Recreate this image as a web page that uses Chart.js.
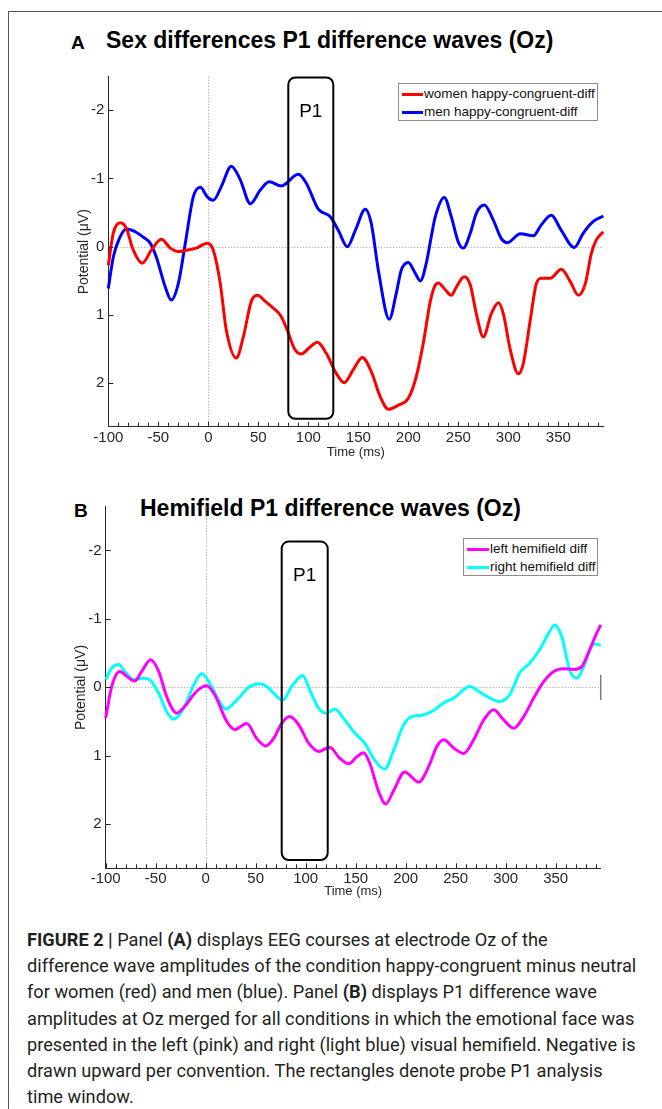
<!DOCTYPE html>
<html>
<head>
<meta charset="utf-8">
<script src="https://cdn.jsdelivr.net/npm/chart.js@4.4.0/dist/chart.umd.min.js"></script>
<style>
  body { margin: 0; background: #fff; }
  #page { position: relative; width: 662px; height: 1109px; overflow: hidden; font-family: 'Liberation Sans', Arial, sans-serif; }
  .frame { position: absolute; left: 8px; top: 11px; width: 700px; height: 1200px; border-top: 1px solid #555; border-left: 1px solid #555; }
  canvas { position: absolute; left: 0; }
  .ptitle { position: absolute; font-weight: bold; color: #000; white-space: nowrap; line-height: 1; }
  .legend { position: absolute; border: 1px solid #8c8c8c; background: #fff; box-sizing: border-box; }
  .legend .row { position: absolute; left: 0; right: 0; height: 18px; font-size: 13.5px; line-height: 18px; color: #111; white-space: nowrap; }
  .legend .swatch { position: absolute; top: 7.5px; height: 3px; }
  .legend .txt { position: absolute; }
  .caption { position: absolute; left: 27px; top: 927px; font-family: Roboto, 'Liberation Sans', sans-serif; font-size: 19px; line-height: 26.2px; color: #231f20; white-space: nowrap; transform: scaleX(0.958); transform-origin: 0 0; }
  .caption b { font-weight: bold; }
</style>
</head>
<body>
<div id="page">
  <div class="frame"></div>

  <div class="ptitle" style="left:71px; top:33px; font-size:19px;">A</div>
  <div class="ptitle" style="left:106px; top:29px; font-size:23px;">Sex differences P1 difference waves (Oz)</div>
  <canvas id="panelA" width="662" height="470" style="top:0;"></canvas>
  <div class="legend" id="legendA" style="left:398px; top:83px; width:200px; height:38px;"></div>

  <div class="ptitle" style="left:74px; top:501px; font-size:19px;">B</div>
  <div class="ptitle" style="left:140px; top:497px; font-size:23px;">Hemifield P1 difference waves (Oz)</div>
  <canvas id="panelB" width="662" height="440" style="top:470px;"></canvas>
  <div class="legend" id="legendB" style="left:463px; top:538px; width:135px; height:38px;"></div>

  <div class="caption">
    <div><b>FIGURE 2 |</b> Panel <b>(A)</b> displays EEG courses at electrode Oz of the</div>
    <div>difference wave amplitudes of the condition happy-congruent minus neutral</div>
    <div>for women (red) and men (blue). Panel <b>(B)</b> displays P1 difference wave</div>
    <div>amplitudes at Oz merged for all conditions in which the emotional face was</div>
    <div>presented in the left (pink) and right (light blue) visual hemifield. Negative is</div>
    <div>drawn upward per convention. The rectangles denote probe P1 analysis</div>
    <div>time window.</div>
  </div>
</div>

<script>
// tick values shared by both panels
const xTicks = [-100, -50, 0, 50, 100, 150, 200, 250, 300, 350];
const yTicks = [-2, -1, 0, 1, 2];

// Panel A - happy-congruent minus neutral, women / men (ms, µV)
const womenTime = [-100, -95, -88, -82, -75, -66, -57, -47, -38, -30, -22, -12, -1, 5, 12, 18, 28, 35, 43, 49, 57, 65, 72, 79, 86, 93, 101, 109, 118, 127, 136, 145, 154, 163, 172, 180, 190, 200, 208, 215, 222, 226, 230, 237, 243, 248, 256, 262, 268, 275, 283, 290, 295, 302, 310, 315, 322, 328, 333, 342, 353, 362, 370, 377, 383, 388, 395];
const womenAmp = [0.27, -0.2, -0.35, -0.27, 0.05, 0.24, 0.05, -0.11, 0.02, 0.07, 0.05, 0.02, -0.05, 0.05, 0.54, 1.22, 1.63, 1.32, 0.8, 0.71, 0.8, 0.9, 1.0, 1.22, 1.49, 1.57, 1.48, 1.4, 1.56, 1.83, 1.99, 1.8, 1.62, 1.83, 2.2, 2.38, 2.32, 2.22, 1.9, 1.41, 0.8, 0.59, 0.53, 0.63, 0.71, 0.59, 0.44, 0.56, 0.98, 1.32, 0.98, 0.82, 0.98, 1.51, 1.86, 1.71, 1.07, 0.54, 0.46, 0.46, 0.33, 0.51, 0.71, 0.54, 0.1, -0.1, -0.22];
const menTime = [-100, -95, -89, -82, -73, -65, -58, -52, -43, -37, -30, -23, -15, -8, -1, 5, 13, 23, 32, 42, 52, 61, 73, 90, 98, 110, 122, 130, 139, 147, 157, 163, 170, 181, 188, 193, 200, 207, 212, 218, 223, 227, 236, 243, 250, 255, 262, 268, 276, 285, 293, 299, 312, 325, 333, 343, 353, 366, 375, 385, 395];
const menAmp = [0.61, 0.15, -0.12, -0.26, -0.22, -0.14, -0.05, 0.15, 0.59, 0.78, 0.54, -0.05, -0.73, -0.87, -0.73, -0.68, -0.88, -1.18, -0.98, -0.63, -0.83, -0.95, -0.89, -1.06, -0.93, -0.55, -0.44, -0.24, 0.0, -0.24, -0.55, -0.34, 0.34, 1.06, 0.68, 0.34, 0.23, 0.39, 0.5, 0.24, -0.15, -0.44, -0.72, -0.44, -0.07, 0.02, -0.2, -0.49, -0.61, -0.39, -0.12, -0.06, -0.19, -0.16, -0.32, -0.46, -0.24, 0.01, -0.2, -0.37, -0.45];

// Panel B - left / right hemifield (ms, µV)
const leftTime = [-100, -94, -86, -79, -71, -64, -55, -47, -39, -29, -21, -9, 1, 9, 21, 29, 41, 51, 60, 68, 76, 84, 93, 103, 113, 124, 134, 143, 151, 158, 164, 173, 180, 188, 199, 213, 223, 231, 238, 248, 258, 268, 278, 288, 298, 308, 318, 328, 338, 348, 358, 368, 376, 384, 391, 395];
const leftAmp = [0.45, -0.01, -0.23, -0.16, -0.09, -0.23, -0.4, -0.23, 0.14, 0.38, 0.28, 0.06, -0.02, 0.11, 0.5, 0.62, 0.53, 0.75, 0.86, 0.75, 0.53, 0.43, 0.55, 0.82, 0.94, 0.88, 1.04, 1.12, 1.02, 0.96, 1.11, 1.53, 1.71, 1.51, 1.24, 1.39, 1.16, 0.87, 0.77, 0.89, 0.97, 0.77, 0.48, 0.33, 0.48, 0.6, 0.43, 0.16, -0.08, -0.23, -0.27, -0.26, -0.3, -0.55, -0.79, -0.91];
const rightTime = [-100, -94, -87, -81, -72, -62, -56, -47, -39, -32, -22, -12, -4, 4, 13, 20, 31, 43, 54, 61, 68, 77, 86, 97, 104, 113, 121, 129, 139, 149, 159, 169, 179, 188, 198, 206, 216, 229, 238, 249, 264, 278, 294, 304, 314, 324, 334, 343, 349, 356, 364, 371, 378, 386, 390, 395];
const rightAmp = [-0.11, -0.28, -0.33, -0.23, -0.11, -0.13, -0.11, 0.09, 0.36, 0.47, 0.31, -0.03, -0.2, -0.06, 0.19, 0.32, 0.19, 0.0, -0.05, -0.01, 0.09, 0.19, -0.01, -0.17, 0.04, 0.31, 0.38, 0.32, 0.48, 0.67, 0.82, 1.07, 1.2, 0.92, 0.55, 0.43, 0.41, 0.33, 0.23, 0.15, -0.01, 0.11, 0.21, 0.11, -0.21, -0.35, -0.55, -0.79, -0.91, -0.74, -0.25, -0.13, -0.3, -0.6, -0.63, -0.61];

const labelsA = ['women happy-congruent-diff', 'men happy-congruent-diff'];
const labelsB = ['left hemifield diff', 'right hemifield diff'];

// P1 analysis window boxes: [start ms, end ms], [top µV, bottom µV]
const p1WindowA = [80, 125];
const p1RangeA = [-2.48, 2.52];
const p1WindowB = [76, 122];
const p1RangeB = [-2.13, 2.53];

// stray axis mark at the right end of panel B
const endMarkTime = [395, 395];
const endMarkAmp = [-0.18, 0.19];

const axisColor = '#262626';
const fontFamily = "'Liberation Sans', Arial, sans-serif";
const tickFont = { family: fontFamily, size: 15 };

function toPoints(times, amps) {
  return times.map((t, i) => ({ x: t, y: amps[i] }));
}

function eegOverlay(win, range) {
  return {
    id: 'eegOverlay',
    beforeDatasetsDraw(chart) {
      const { ctx, chartArea: a, scales: { x, y } } = chart;
      const x0 = Math.round(x.getPixelForValue(0)) + 0.5;
      const y0 = Math.round(y.getPixelForValue(0)) + 0.5;
      ctx.save();
      ctx.strokeStyle = '#9a9a9a';
      ctx.lineWidth = 1;
      ctx.setLineDash([1, 2]);
      ctx.beginPath();
      ctx.moveTo(x0, a.top);
      ctx.lineTo(x0, a.bottom);
      ctx.moveTo(a.left, y0);
      ctx.lineTo(a.right, y0);
      ctx.stroke();
      ctx.restore();
    },
    afterDatasetsDraw(chart) {
      const { ctx, scales: { x, y } } = chart;
      const left = x.getPixelForValue(win[0]);
      const right = x.getPixelForValue(win[1]);
      const top = y.getPixelForValue(range[0]);
      const bottom = y.getPixelForValue(range[1]);
      ctx.save();
      ctx.strokeStyle = '#000';
      ctx.lineWidth = 2;
      ctx.beginPath();
      ctx.roundRect(left, top, right - left, bottom - top, 7);
      ctx.stroke();
      ctx.fillStyle = '#000';
      ctx.font = '19px ' + fontFamily;
      ctx.textAlign = 'center';
      ctx.textBaseline = 'middle';
      ctx.fillText('P1', (left + right) / 2, top + 34);
      ctx.restore();
    },
    afterDraw(chart) {
      // MATLAB-style inward tick marks
      const { ctx, chartArea: a, scales: { x, y } } = chart;
      ctx.save();
      ctx.strokeStyle = axisColor;
      ctx.lineWidth = 1;
      ctx.beginPath();
      for (let t = -100; t <= 390; t += 10) {
        const px = Math.round(x.getPixelForValue(t)) + 0.5;
        const len = xTicks.includes(t) ? 5 : 4;
        ctx.moveTo(px, a.bottom);
        ctx.lineTo(px, a.bottom - len);
      }
      yTicks.forEach(v => {
        const py = Math.round(y.getPixelForValue(v)) + 0.5;
        ctx.moveTo(a.left, py);
        ctx.lineTo(a.left + 5, py);
      });
      ctx.stroke();
      ctx.restore();
    }
  };
}

function makePanel(canvasId, cfg) {
  const ctx = document.getElementById(canvasId);
  const datasets = cfg.series.map(s => ({
    label: s.label,
    data: toPoints(s.t, s.v),
    borderColor: s.color,
    borderWidth: s.width || 3,
    pointRadius: 0,
    cubicInterpolationMode: 'monotone',
    fill: false,
    clip: s.clip === undefined ? 3 : s.clip
  }));

  return new Chart(ctx, {
    type: 'line',
    data: { datasets: datasets },
    options: {
      responsive: false,
      animation: false,
      devicePixelRatio: 1,
      layout: { padding: { top: cfg.top, right: cfg.right, left: 0, bottom: 0 } },
      plugins: {
        legend: { display: false },
        tooltip: { enabled: false }
      },
      scales: {
        x: {
          type: 'linear',
          min: -100,
          max: 395,
          afterBuildTicks: scale => { scale.ticks = xTicks.map(v => ({ value: v })); },
          afterFit: scale => { scale.height = cfg.xAxisHeight; },
          grid: { drawOnChartArea: false, drawTicks: false },
          border: { display: true, color: axisColor, width: 1 },
          ticks: { font: tickFont, color: axisColor, padding: 2, maxRotation: 0, autoSkip: false },
          title: {
            display: true,
            text: 'Time (ms)',
            font: { family: fontFamily, size: 13 },
            color: axisColor,
            padding: { top: 0, bottom: cfg.xTitlePad }
          }
        },
        y: {
          type: 'linear',
          reverse: true,
          min: cfg.yMin,
          max: cfg.yMax,
          afterBuildTicks: scale => { scale.ticks = yTicks.map(v => ({ value: v })); },
          afterFit: scale => { scale.width = cfg.yAxisWidth; },
          grid: { drawOnChartArea: false, drawTicks: false },
          border: { display: true, color: axisColor, width: 1 },
          ticks: { font: tickFont, color: axisColor, padding: 4 },
          title: {
            display: true,
            text: 'Potential (μV)',
            font: { family: fontFamily, size: 14 },
            color: axisColor,
            padding: { top: cfg.yTitlePad, bottom: 0 }
          }
        }
      }
    },
    plugins: [eegOverlay(cfg.win, cfg.range)]
  });
}

function buildLegend(id, labels, colors, textLeft) {
  const box = document.getElementById(id);
  labels.forEach((label, i) => {
    const row = document.createElement('div');
    row.className = 'row';
    row.style.top = (1 + i * 18) + 'px';
    row.innerHTML = '<span class="swatch" style="left:3px;width:' + (textLeft - 4) + 'px;background:' + colors[i] + '"></span>' +
      '<span class="txt" style="left:' + textLeft + 'px">' + label + '</span>';
    box.appendChild(row);
  });
}

window.addEventListener('load', function() {
  const colorsA = ['#ff0000', '#0000ff'];
  const colorsB = ['#ff00ff', '#00ffff'];

  makePanel('panelA', {
    top: 76.7, right: 58.7, xAxisHeight: 43.3, yAxisWidth: 108.3,
    xTitlePad: 10, yTitlePad: 76,
    yMin: -2.49, yMax: 2.635,
    win: p1WindowA, range: p1RangeA,
    series: [
      { label: labelsA[0], t: womenTime, v: womenAmp, color: colorsA[0] },
      { label: labelsA[1], t: menTime, v: menAmp, color: colorsA[1] }
    ]
  });

  makePanel('panelB', {
    top: 36.7, right: 61.3, xAxisHeight: 41.7, yAxisWidth: 105.7,
    xTitlePad: 11, yTitlePad: 73,
    yMin: -2.64, yMax: 2.65,
    win: p1WindowB, range: p1RangeB,
    series: [
      { label: labelsB[0], t: leftTime, v: leftAmp, color: colorsB[0] },
      { label: labelsB[1], t: rightTime, v: rightAmp, color: colorsB[1] },
      { label: '', t: endMarkTime, v: endMarkAmp, color: '#7a7a7a', width: 1.5, clip: false }
    ]
  });

  buildLegend('legendA', labelsA, colorsA, 25);
  buildLegend('legendB', labelsB, colorsB, 26);
});
</script>
</body>
</html>
